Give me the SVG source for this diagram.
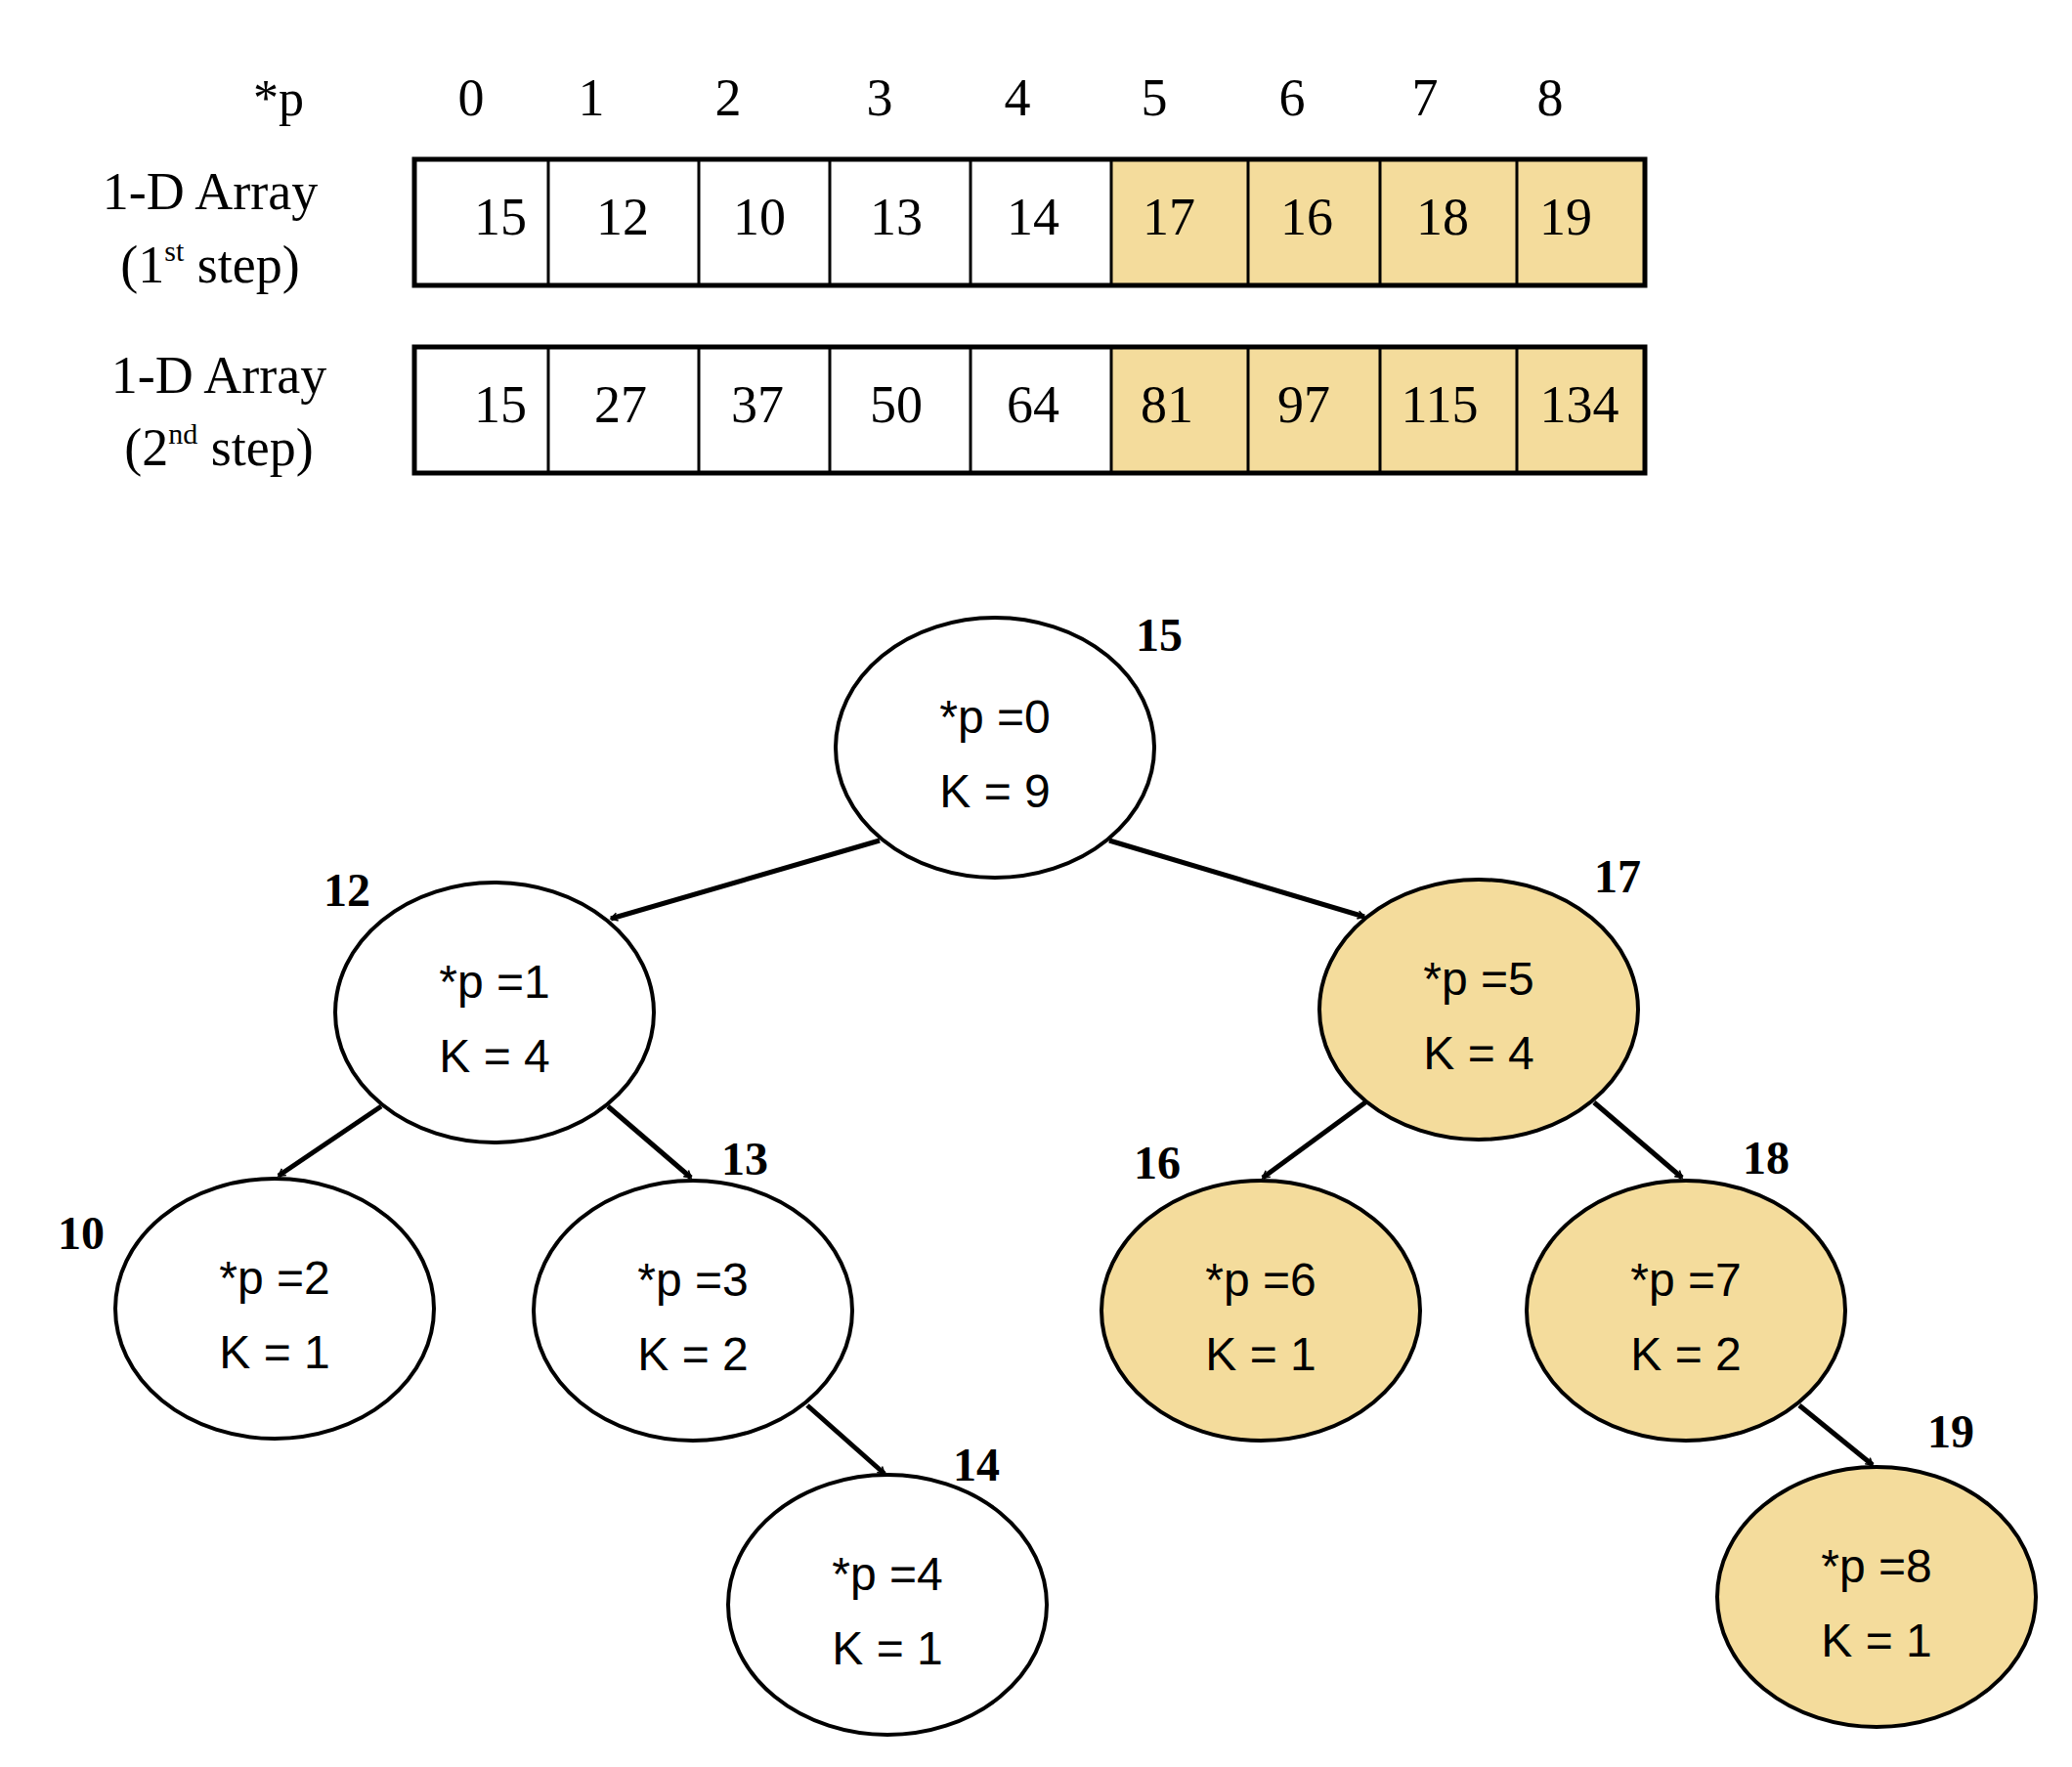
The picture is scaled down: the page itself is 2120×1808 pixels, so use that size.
<svg xmlns="http://www.w3.org/2000/svg" width="2120" height="1808" viewBox="0 0 2120 1808">
<style>
.s{font-family:"Liberation Serif",serif;font-size:52px;fill:#000}
.c{font-family:"Liberation Serif",serif;font-size:54px;fill:#000;text-anchor:middle}
.b{font-family:"Liberation Serif",serif;font-size:48px;font-weight:bold;fill:#000;text-anchor:middle}
.t{font-family:"Liberation Sans",sans-serif;font-size:48px;fill:#000;text-anchor:middle}
.w{fill:#fff;stroke:#000;stroke-width:4}
.y{fill:#f4dc9c;stroke:#000;stroke-width:4}
.e{stroke:#000;stroke-width:5;fill:none;marker-end:url(#a)}
.cell{stroke:#000;stroke-width:3}
</style>
<defs><marker id="a" viewBox="0 0 20 20" refX="17" refY="10" markerWidth="8" markerHeight="8" markerUnits="userSpaceOnUse" orient="auto" overflow="visible"><path d="M0,0 L17,10 L0,20" fill="none" stroke="#000" stroke-width="4"/></marker></defs>
<rect width="2120" height="1808" fill="#fff"/>
<g id="indices" class="c">
<text x="285" y="118" class="s" text-anchor="middle">*p</text>
<text x="482" y="118">0</text><text x="605" y="118">1</text><text x="745" y="118">2</text><text x="900" y="118">3</text><text x="1041" y="118">4</text><text x="1181" y="118">5</text><text x="1322" y="118">6</text><text x="1458" y="118">7</text><text x="1586" y="118">8</text>
</g>
<g id="labels" class="c">
<text x="215" y="214">1-D Array</text>
<text x="215" y="289">(1<tspan font-size="30" dy="-22">st</tspan><tspan dy="22"> step)</tspan></text>
<text x="224" y="402">1-D Array</text>
<text x="224" y="476">(2<tspan font-size="30" dy="-22">nd</tspan><tspan dy="22"> step)</tspan></text>
</g>
<g id="array1">
<rect x="424" y="163" width="713" height="129" fill="#fff"/>
<rect x="1137" y="163" width="546" height="129" fill="#f4dc9c"/>
<rect x="424" y="163" width="1259" height="129" fill="none" stroke="#000" stroke-width="5"/>
<path class="cell" d="M561,163V292M715,163V292M849,163V292M993,163V292M1137,163V292M1277,163V292M1412,163V292M1552,163V292"/>
<g class="c"><text x="512" y="240">15</text><text x="637" y="240">12</text><text x="777" y="240">10</text><text x="917" y="240">13</text><text x="1057" y="240">14</text><text x="1196" y="240">17</text><text x="1337" y="240">16</text><text x="1476" y="240">18</text><text x="1602" y="240">19</text></g>
</g>
<g id="array2">
<rect x="424" y="355" width="713" height="129" fill="#fff"/>
<rect x="1137" y="355" width="546" height="129" fill="#f4dc9c"/>
<rect x="424" y="355" width="1259" height="129" fill="none" stroke="#000" stroke-width="5"/>
<path class="cell" d="M561,355V484M715,355V484M849,355V484M993,355V484M1137,355V484M1277,355V484M1412,355V484M1552,355V484"/>
<g class="c"><text x="512" y="432">15</text><text x="635" y="432">27</text><text x="775" y="432">37</text><text x="917" y="432">50</text><text x="1057" y="432">64</text><text x="1194" y="432">81</text><text x="1334" y="432">97</text><text x="1473" y="432">115</text><text x="1616" y="432">134</text></g>
</g>
<g id="connectors">
<path class="e" d="M900,860L625,940"/>
<path class="e" d="M1135,860L1396,938"/>
<path class="e" d="M390,1132L285,1203"/>
<path class="e" d="M622,1132L707,1205"/>
<path class="e" d="M1397,1128L1292,1205"/>
<path class="e" d="M1631,1128L1721,1205"/>
<path class="e" d="M826,1438L905,1508"/>
<path class="e" d="M1841,1438L1916,1499"/>
</g>
<g id="n0"><ellipse class="w" cx="1018" cy="765" rx="163" ry="133"/><text class="t" x="1018" y="750">*p =0</text><text class="t" x="1018" y="826">K = 9</text><text class="b" x="1186" y="666">15</text></g>
<g id="n1"><ellipse class="w" cx="506" cy="1036" rx="163" ry="133"/><text class="t" x="506" y="1021">*p =1</text><text class="t" x="506" y="1097">K = 4</text><text class="b" x="355" y="927">12</text></g>
<g id="n5"><ellipse class="y" cx="1513" cy="1033" rx="163" ry="133"/><text class="t" x="1513" y="1018">*p =5</text><text class="t" x="1513" y="1094">K = 4</text><text class="b" x="1655" y="913">17</text></g>
<g id="n2"><ellipse class="w" cx="281" cy="1339" rx="163" ry="133"/><text class="t" x="281" y="1324">*p =2</text><text class="t" x="281" y="1400">K = 1</text><text class="b" x="83" y="1278">10</text></g>
<g id="n3"><ellipse class="w" cx="709" cy="1341" rx="163" ry="133"/><text class="t" x="709" y="1326">*p =3</text><text class="t" x="709" y="1402">K = 2</text><text class="b" x="762" y="1202">13</text></g>
<g id="n6"><ellipse class="y" cx="1290" cy="1341" rx="163" ry="133"/><text class="t" x="1290" y="1326">*p =6</text><text class="t" x="1290" y="1402">K = 1</text><text class="b" x="1184" y="1206">16</text></g>
<g id="n7"><ellipse class="y" cx="1725" cy="1341" rx="163" ry="133"/><text class="t" x="1725" y="1326">*p =7</text><text class="t" x="1725" y="1402">K = 2</text><text class="b" x="1807" y="1201">18</text></g>
<g id="n4"><ellipse class="w" cx="908" cy="1642" rx="163" ry="133"/><text class="t" x="908" y="1627">*p =4</text><text class="t" x="908" y="1703">K = 1</text><text class="b" x="999" y="1515">14</text></g>
<g id="n8"><ellipse class="y" cx="1920" cy="1634" rx="163" ry="133"/><text class="t" x="1920" y="1619">*p =8</text><text class="t" x="1920" y="1695">K = 1</text><text class="b" x="1996" y="1481">19</text></g>
</svg>
